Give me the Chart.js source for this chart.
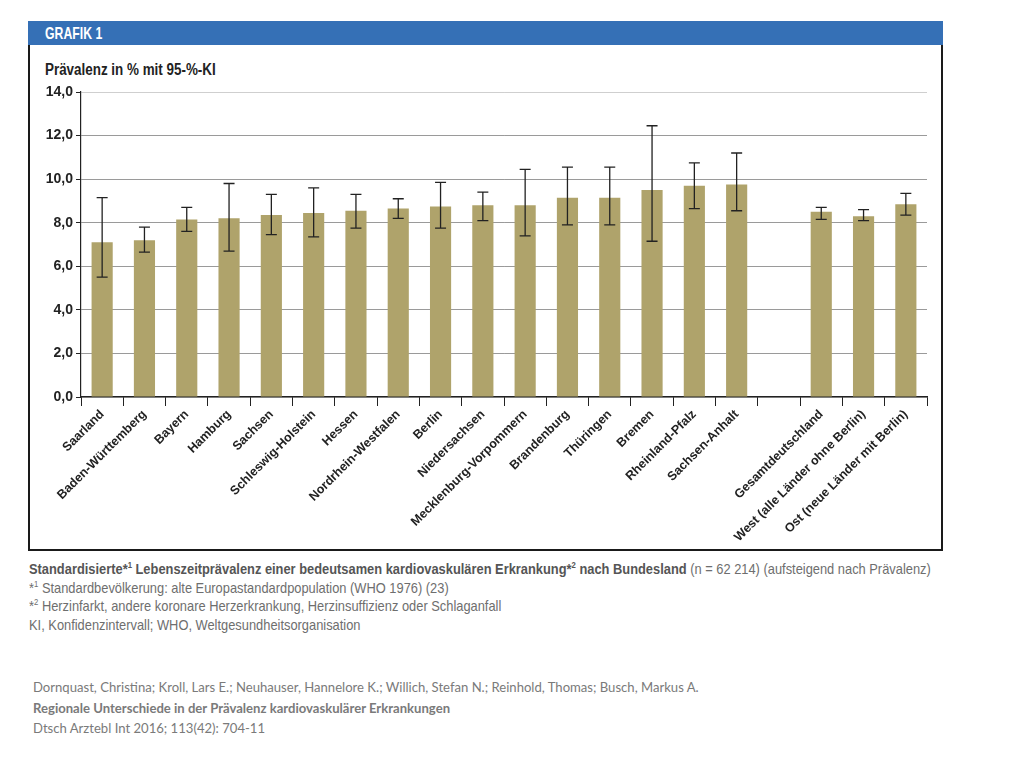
<!DOCTYPE html>
<html>
<head>
<meta charset="utf-8">
<script src="https://cdn.jsdelivr.net/npm/chart.js@4"></script>
<style>
  body { margin: 0; background: #fff; width: 1024px; height: 768px; position: relative; overflow: hidden; }
  .cond { font-family: 'Liberation Sans', Arial, sans-serif; white-space: nowrap; transform-origin: left top; }
  #header { position: absolute; left: 28px; top: 21px; width: 915px; height: 24px; background: #3570b6; }
  #grafik { position: absolute; left: 45px; top: 24px; color: #fff; font-weight: bold; font-size: 17px; }
  #frame { position: absolute; left: 28px; top: 45px; width: 911px; height: 504px; border: 2px solid #1a1a1a; border-top: none; }
  #ytitle { position: absolute; left: 45px; top: 61px; font-weight: bold; font-size: 16px; color: #222; }
  #wrap { position: absolute; left: 30px; top: 46px; width: 911px; height: 502px; }
  #caption { position: absolute; left: 29px; top: 560px; font-size: 15px; color: #6e6e6e; line-height: 18.7px; }
  #caption b { color: #555; }
  #caption sup { font-size: 9px; line-height: 0; }
  #source { position: absolute; left: 33px; top: 677px; font-family: Lato, 'Open Sans', sans-serif; font-size: 13.1px; color: #7a7a7a; line-height: 20.5px; white-space: nowrap; }
</style>
</head>
<body>
<div id="header"></div>
<div id="grafik" class="cond">GRAFIK 1</div>
<div id="frame"></div>
<div id="ytitle" class="cond">Prävalenz in % mit 95-%-KI</div>
<div id="wrap"><canvas id="chart" width="911" height="502"></canvas></div>
<div id="caption" class="cond">
  <div id="capfirst" style="display:inline-block"><b>Standardisierte*<sup>1</sup> Lebenszeitprävalenz einer bedeutsamen kardiovaskulären Erkrankung*<sup>2</sup> nach Bundesland</b> (n = 62 214) (aufsteigend nach Prävalenz)</div><br>
  *<sup>1</sup> Standardbevölkerung: alte Europastandardpopulation (WHO 1976) (23)<br>
  *<sup>2</sup> Herzinfarkt, andere koronare Herzerkrankung, Herzinsuffizienz oder Schlaganfall<br>
  KI, Konfidenzintervall; WHO, Weltgesundheitsorganisation
</div>
<div id="source">
  Dornquast, Christina; Kroll, Lars E.; Neuhauser, Hannelore K.; Willich, Stefan N.; Reinhold, Thomas; Busch, Markus A.<br>
  <b>Regionale Unterschiede in der Prävalenz kardiovaskulärer Erkrankungen</b><br>
  Dtsch Arztebl Int 2016; 113(42): 704-11
</div>
<script>
// Data
const regions = ['Saarland', 'Baden-Württemberg', 'Bayern', 'Hamburg', 'Sachsen', 'Schleswig-Holstein',
  'Hessen', 'Nordrhein-Westfalen', 'Berlin', 'Niedersachsen', 'Mecklenburg-Vorpommern', 'Brandenburg',
  'Thüringen', 'Bremen', 'Rheinland-Pfalz', 'Sachsen-Anhalt', '',
  'Gesamtdeutschland', 'West (alle Länder ohne Berlin)', 'Ost (neue Länder mit Berlin)'];
const prevalence = [7.1, 7.2, 8.15, 8.2, 8.35, 8.45, 8.55, 8.65, 8.75, 8.8, 8.8, 9.15,
  9.15, 9.5, 9.7, 9.75, null, 8.5, 8.3, 8.85];
const ciLower = [5.5, 6.65, 7.6, 6.7, 7.45, 7.35, 7.75, 8.2, 7.75, 8.1, 7.4, 7.9,
  7.9, 7.15, 8.65, 8.55, null, 8.15, 8.1, 8.35];
const ciUpper = [9.15, 7.8, 8.7, 9.8, 9.3, 9.6, 9.3, 9.1, 9.85, 9.4, 10.45, 10.55,
  10.55, 12.45, 10.75, 11.2, null, 8.7, 8.6, 9.35];
const yTicks = [0, 2, 4, 6, 8, 10, 12, 14];

const fontFamily = "'Liberation Sans', Arial, sans-serif";

// squeeze html text to the narrow widths of the original
function fitWidth(el, w) {
  el.style.display = 'inline-block';
  el.style.transform = 'scaleX(' + (w / el.offsetWidth) + ')';
}
fitWidth(document.getElementById('grafik'), 57);
fitWidth(document.getElementById('ytitle'), 171);
const cap = document.getElementById('caption');
const capScale = 902 / document.getElementById('capfirst').offsetWidth;
cap.style.transform = 'scaleX(' + capScale + ')';

// Error bars drawn from the CI arrays
const errorBars = {
  id: 'errorBars',
  afterDatasetsDraw(chart) {
    const ctx = chart.ctx;
    const meta = chart.getDatasetMeta(0);
    const y = chart.scales.y;
    ctx.save();
    ctx.strokeStyle = '#222';
    ctx.lineWidth = 1.3;
    meta.data.forEach((bar, i) => {
      if (prevalence[i] == null) return;
      const yt = y.getPixelForValue(ciUpper[i]);
      const yb = y.getPixelForValue(ciLower[i]);
      const c = 5.5;
      ctx.beginPath();
      ctx.moveTo(bar.x, yt); ctx.lineTo(bar.x, yb);
      ctx.moveTo(bar.x - c, yt); ctx.lineTo(bar.x + c, yt);
      ctx.moveTo(bar.x - c, yb); ctx.lineTo(bar.x + c, yb);
      ctx.stroke();
    });
    ctx.restore();
  }
};

const ctx = document.getElementById('chart').getContext('2d');
new Chart(ctx, {
  type: 'bar',
  data: {
    labels: regions,
    datasets: [{
      data: prevalence,
      backgroundColor: '#afa36b',
      barPercentage: 0.5,
      categoryPercentage: 1.0
    }]
  },
  options: {
    responsive: false,
    animation: false,
    layout: { padding: { top: 46, right: 14, left: 0, bottom: 0 } },
    plugins: { legend: { display: false }, tooltip: { enabled: false } },
    scales: {
      y: {
        min: 0, max: 14,
        afterFit: s => { s.width = 51; },
        afterBuildTicks: s => { s.ticks = yTicks.map(v => ({ value: v })); },
        ticks: {
          color: '#222',
          font: { family: fontFamily, size: 14, weight: 'bold' },
          padding: 3,
          callback: v => v.toFixed(1).replace('.', ',')
        },
        grid: {
          color: c => c.tick && c.tick.value === 14 ? '#cfcfcf' : '#9a9a9a',
          tickColor: '#222',
          tickLength: 5
        },
        border: { color: '#222', width: 1.2 }
      },
      x: {
        afterFit: s => { s.height = 151; },
        ticks: {
          color: '#222',
          font: { family: fontFamily, size: 12.5, weight: 'bold' },
          maxRotation: 45, minRotation: 45,
          autoSkip: false,
          padding: 1
        },
        grid: {
          offset: true,
          drawOnChartArea: false,
          tickColor: '#222',
          tickLength: 9
        },
        border: { color: '#222', width: 1.2 }
      }
    }
  },
  plugins: [errorBars]
});
</script>
</body>
</html>
